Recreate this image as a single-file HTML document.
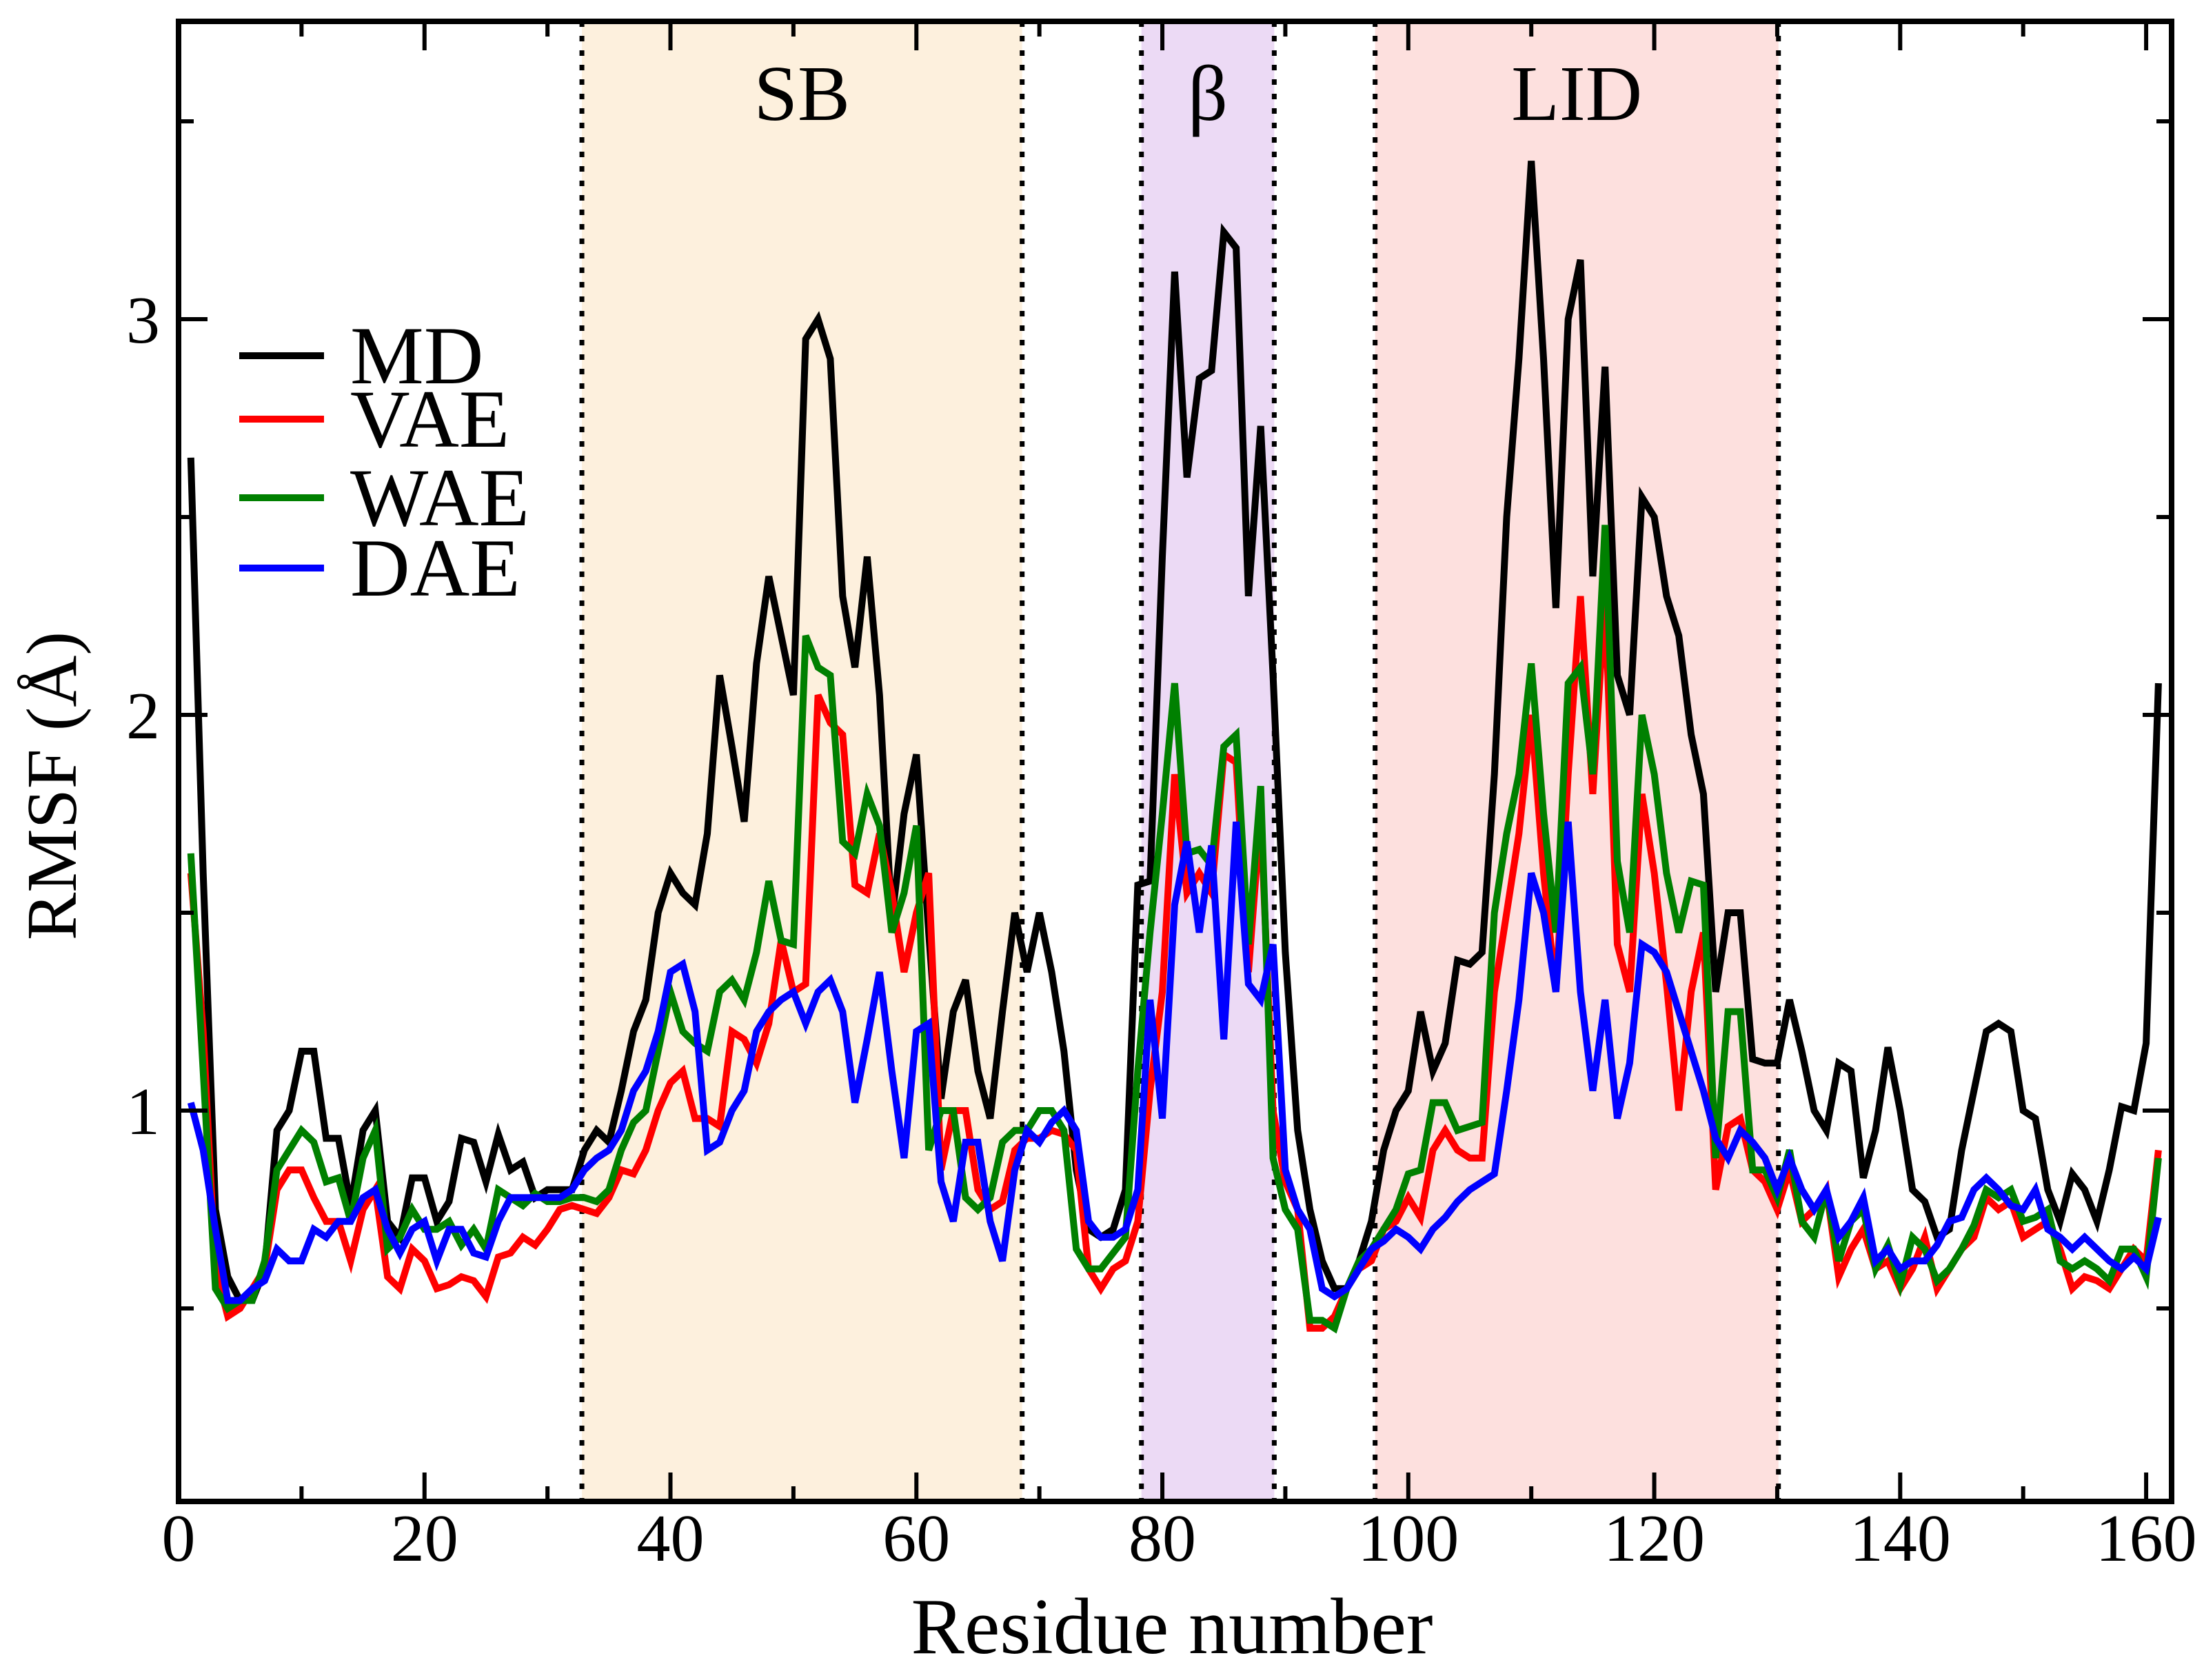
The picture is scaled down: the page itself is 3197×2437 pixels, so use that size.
<!DOCTYPE html>
<html><head><meta charset="utf-8">
<style>
html,body{margin:0;padding:0;background:#fff;}
svg{display:block;font-family:"Liberation Serif","DejaVu Serif",serif;}
</style></head>
<body>
<svg id="chart" width="3197" height="2437" viewBox="0 0 3197 2437" xmlns="http://www.w3.org/2000/svg">
<g id="regions"></g>
<g id="series"></g>
<g id="axes"></g>
<g id="legend"></g>
</svg>
<script>
const xTicks = [0,20,40,60,80,100,120,140,160];
const yTicks = [1,2,3];
const regionNames = ["SB","β","LID"];
const regionStarts = [32.8,78.3,97.3];
const regionEnds = [68.6,89.1,130.1];
const regionColors = ["#fdf0dd","#ecdaf5","#fde0de"];
const seriesNames = ["MD","VAE","WAE","DAE"];
const seriesColors = ["#000000","#ff0000","#008000","#0000ff"];
const md = [2.65,1.6,0.75,0.58,0.52,0.52,0.6,0.95,1.0,1.15,1.15,0.93,0.93,0.76,0.95,1.0,0.72,0.68,0.83,0.83,0.72,0.77,0.93,0.92,0.82,0.94,0.85,0.87,0.78,0.8,0.8,0.8,0.9,0.95,0.92,1.05,1.2,1.28,1.5,1.6,1.55,1.52,1.7,2.1,1.92,1.73,2.13,2.35,2.2,2.05,2.95,3.0,2.9,2.3,2.12,2.4,2.05,1.48,1.75,1.9,1.45,1.03,1.25,1.33,1.1,0.98,1.25,1.5,1.35,1.5,1.35,1.15,0.85,0.7,0.68,0.7,0.8,1.57,1.58,2.4,3.12,2.6,2.85,2.87,3.22,3.18,2.3,2.73,2.1,1.4,0.95,0.75,0.62,0.55,0.55,0.62,0.72,0.9,1.0,1.05,1.25,1.1,1.17,1.38,1.37,1.4,1.85,2.5,2.9,3.4,2.9,2.27,3.0,3.15,2.35,2.88,2.1,2.0,2.55,2.5,2.3,2.2,1.95,1.8,1.3,1.5,1.5,1.13,1.12,1.12,1.28,1.15,1.0,0.95,1.12,1.1,0.83,0.95,1.16,1.0,0.8,0.77,0.68,0.7,0.9,1.05,1.2,1.22,1.2,1.0,0.98,0.8,0.72,0.84,0.8,0.72,0.85,1.01,1.0,1.17,2.08];
const vae = [1.6,1.2,0.6,0.48,0.5,0.55,0.6,0.8,0.85,0.85,0.78,0.72,0.72,0.62,0.75,0.8,0.58,0.55,0.65,0.62,0.55,0.56,0.58,0.57,0.53,0.63,0.64,0.68,0.66,0.7,0.75,0.76,0.75,0.74,0.78,0.85,0.84,0.9,1.0,1.07,1.1,0.98,0.98,0.96,1.2,1.18,1.12,1.22,1.43,1.3,1.32,2.05,1.98,1.95,1.57,1.55,1.7,1.55,1.35,1.5,1.6,0.85,1.0,1.0,0.8,0.75,0.77,0.9,0.93,0.93,0.95,0.94,0.9,0.6,0.55,0.6,0.62,0.72,1.05,1.3,1.85,1.55,1.6,1.55,1.9,1.88,1.35,1.75,1.0,0.82,0.75,0.45,0.45,0.48,0.55,0.6,0.62,0.7,0.72,0.78,0.73,0.9,0.95,0.9,0.88,0.88,1.3,1.5,1.7,2.0,1.6,1.3,1.85,2.3,1.8,2.3,1.42,1.3,1.8,1.6,1.32,1.0,1.3,1.45,0.8,0.96,0.98,0.85,0.82,0.75,0.85,0.72,0.75,0.8,0.58,0.65,0.7,0.6,0.62,0.55,0.6,0.68,0.55,0.6,0.65,0.68,0.78,0.75,0.77,0.68,0.7,0.72,0.65,0.55,0.58,0.57,0.55,0.6,0.65,0.62,0.9];
const wae = [1.65,1.1,0.55,0.5,0.52,0.52,0.62,0.85,0.9,0.95,0.92,0.82,0.83,0.72,0.88,0.95,0.65,0.68,0.75,0.7,0.7,0.72,0.66,0.7,0.65,0.8,0.78,0.76,0.79,0.77,0.77,0.78,0.78,0.77,0.8,0.9,0.97,1.0,1.15,1.3,1.2,1.17,1.15,1.3,1.33,1.28,1.4,1.58,1.43,1.42,2.2,2.12,2.1,1.68,1.65,1.8,1.72,1.45,1.55,1.72,0.9,1.0,1.0,0.78,0.75,0.78,0.92,0.95,0.95,1.0,1.0,0.95,0.65,0.6,0.6,0.64,0.68,1.1,1.45,1.75,2.08,1.65,1.66,1.62,1.92,1.95,1.42,1.82,0.88,0.75,0.7,0.47,0.47,0.45,0.55,0.62,0.65,0.7,0.75,0.84,0.85,1.02,1.02,0.95,0.96,0.97,1.5,1.7,1.85,2.13,1.75,1.45,2.08,2.12,1.85,2.48,1.63,1.45,2.0,1.85,1.6,1.45,1.58,1.57,0.88,1.25,1.25,0.85,0.85,0.78,0.9,0.72,0.68,0.8,0.62,0.72,0.75,0.6,0.66,0.56,0.68,0.65,0.57,0.6,0.65,0.71,0.8,0.78,0.8,0.72,0.73,0.75,0.62,0.6,0.62,0.6,0.57,0.65,0.65,0.58,0.88];
const dae = [1.02,0.9,0.7,0.52,0.52,0.55,0.57,0.65,0.62,0.62,0.7,0.68,0.72,0.72,0.78,0.8,0.7,0.64,0.7,0.72,0.62,0.7,0.7,0.64,0.63,0.72,0.78,0.78,0.78,0.78,0.78,0.8,0.85,0.88,0.9,0.95,1.05,1.1,1.2,1.35,1.37,1.25,0.9,0.92,1.0,1.05,1.2,1.25,1.28,1.3,1.22,1.3,1.33,1.25,1.02,1.18,1.35,1.1,0.88,1.2,1.22,0.82,0.72,0.92,0.92,0.72,0.62,0.85,0.95,0.92,0.97,1.0,0.95,0.72,0.68,0.68,0.7,0.8,1.28,0.98,1.52,1.68,1.45,1.67,1.18,1.73,1.32,1.28,1.42,0.85,0.75,0.7,0.55,0.53,0.55,0.6,0.65,0.67,0.7,0.68,0.65,0.7,0.73,0.77,0.8,0.82,0.84,1.05,1.28,1.6,1.5,1.3,1.73,1.3,1.05,1.28,0.98,1.12,1.42,1.4,1.35,1.25,1.15,1.05,0.93,0.88,0.95,0.92,0.88,0.8,0.88,0.8,0.75,0.8,0.68,0.72,0.78,0.62,0.65,0.6,0.62,0.62,0.66,0.72,0.73,0.8,0.83,0.8,0.76,0.75,0.8,0.7,0.68,0.65,0.68,0.65,0.62,0.6,0.63,0.6,0.73];
const allSeries = [md,vae,wae,dae];

const NS="http://www.w3.org/2000/svg";
const L=259,R=3150,T=31,B=2178;
const X0=0,X1=162.07;
const Y0px=2185, YU=574;
function sx(v){return L+(v-X0)/(X1-X0)*(R-L);}
function sy(v){return Y0px-v*YU;}
function mk(tag,parent,attrs){const e=document.createElementNS(NS,tag);for(const k in attrs)e.setAttribute(k,attrs[k]);parent.appendChild(e);return e;}

const gReg=document.getElementById('regions');
for(let i=0;i<regionNames.length;i++){
  const r=mk('rect',gReg,{x:sx(regionStarts[i]),y:T,width:sx(regionEnds[i])-sx(regionStarts[i]),height:B-T,fill:regionColors[i]});
  
  
  [regionStarts[i],regionEnds[i]].forEach((v,j)=>{
    const ln=mk('line',gReg,{x1:sx(v),x2:sx(v),y1:T,y2:B,stroke:'#000','stroke-width':7,'stroke-dasharray':'8 13'});
    
    
  });
  const t=mk('text',gReg,{x:sx((regionStarts[i]+regionEnds[i])/2),y:174,'font-size':114,'text-anchor':'middle',fill:'#000'});
  t.textContent=regionNames[i];
  
  
}

const gS=document.getElementById('series');
for(let s=0;s<allSeries.length;s++){
  const d=allSeries[s].map((v,i)=>(i?'L':'M')+sx(i+1).toFixed(1)+','+sy(v).toFixed(1)).join(' ');
  const p=mk('path',gS,{d:d,fill:'none',stroke:seriesColors[s],'stroke-width':10,'stroke-linejoin':'miter'});
  
  
}

const gA=document.getElementById('axes');
const frame=mk('rect',gA,{x:L,y:T,width:R-L,height:B-T,fill:'none',stroke:'#000','stroke-width':8});


for(let v=0;v<=160;v+=10){
  const len=(v%20===0)?42:22;
  mk('line',gA,{x1:sx(v),x2:sx(v),y1:B,y2:B-len,stroke:'#000','stroke-width':6});
  mk('line',gA,{x1:sx(v),x2:sx(v),y1:T,y2:T+len,stroke:'#000','stroke-width':6});
}
for(let v=0.5;v<=3.5;v+=0.5){
  const len=(Math.abs(v-Math.round(v))<1e-6)?42:22;
  mk('line',gA,{x1:L,x2:L+len,y1:sy(v),y2:sy(v),stroke:'#000','stroke-width':6});
  mk('line',gA,{x1:R,x2:R-len,y1:sy(v),y2:sy(v),stroke:'#000','stroke-width':6});
}
xTicks.forEach(v=>{
  const t=mk('text',gA,{x:sx(v),y:2264,'font-size':98,'text-anchor':'middle'});
  t.textContent=String(v);
  
  
});
yTicks.forEach(v=>{
  const t=mk('text',gA,{x:232,y:sy(v)+34,'font-size':98,'text-anchor':'end'});
  t.textContent=String(v);
  
  
});
const xt=mk('text',gA,{x:1700,y:2398,'font-size':116,'text-anchor':'middle'});
xt.textContent='Residue number';


const yt=mk('text',gA,{x:0,y:0,'font-size':104,'text-anchor':'middle',transform:'translate(110,1140) rotate(-90)'});
yt.textContent='RMSF (Å)';



const gL=document.getElementById('legend');
const legY=[516,608,722,824];
for(let s=0;s<seriesNames.length;s++){
  const ln=mk('line',gL,{x1:347,x2:470,y1:legY[s],y2:legY[s],stroke:seriesColors[s],'stroke-width':10});
  
  
  const t=mk('text',gL,{x:508,y:legY[s]+40,'font-size':120});
  t.textContent=seriesNames[s];
  
  
}
</script>
</body></html>
